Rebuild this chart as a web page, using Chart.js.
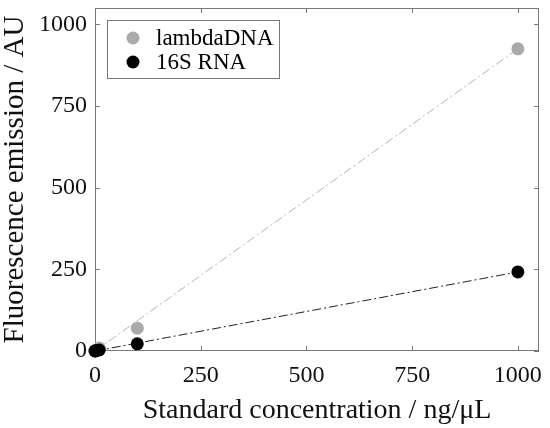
<!DOCTYPE html>
<html>
<head>
<meta charset="utf-8">
<script src="https://cdn.jsdelivr.net/npm/chart.js@4/dist/chart.umd.min.js"></script>
<style>
  html, body { margin: 0; padding: 0; background: #fff; }
  #wrap { width: 550px; height: 428px; position: relative; }
</style>
</head>
<body>
<div id="wrap"><canvas id="chart"></canvas></div>
<script>
// --- Data ---
const concentrations = [0, 1, 10, 100, 1000];          // ng/µL
const lambdaValues = [0, 1, 9, 70, 925];               // AU
const rnaValues = [0, 0.5, 3, 22, 242];                // AU
const lambdaFit = [0, 925];                            // fit line ends, at x = 0 and 1000
const rnaFit = [0, 242];
const fitX = [0, 1000];
const xTicks = [0, 250, 500, 750, 1000];
const yTicks = [0, 250, 500, 750, 1000];
const seriesNames = ['lambdaDNA', '16S RNA'];

const FONT = "'Liberation Serif', 'Times New Roman', serif";
const GREY = '#aaaaaa';
const AXIS = '#7a7a7a';

function toPoints(xs, ys) {
    return xs.map((x, i) => ({ x: x, y: ys[i] }));
}

// frame + inward ticks on all four sides, and a legend box inside the plot
const framePlugin = {
    id: 'frame',
    beforeDatasetsDraw(chart) {
        const { ctx, chartArea: a, scales } = chart;
        ctx.save();
        ctx.strokeStyle = AXIS;
        ctx.lineWidth = 1;
        ctx.strokeRect(a.left + 0.5, a.top + 0.5, a.right - a.left - 1, a.bottom - a.top - 1);
        const len = 5;
        ctx.beginPath();
        xTicks.forEach(v => {
            const px = Math.round(scales.x.getPixelForValue(v)) + 0.5;
            ctx.moveTo(px, a.bottom); ctx.lineTo(px, a.bottom - len);
            ctx.moveTo(px, a.top); ctx.lineTo(px, a.top + len);
        });
        yTicks.forEach(v => {
            const py = Math.round(scales.y.getPixelForValue(v)) + 0.5;
            ctx.moveTo(a.left, py); ctx.lineTo(a.left + len, py);
            ctx.moveTo(a.right, py); ctx.lineTo(a.right - len, py);
        });
        ctx.stroke();
        ctx.restore();
    },
    afterDraw(chart) {
        const { ctx } = chart;
        const box = { x: 107.5, y: 20.5, w: 172, h: 58 };
        ctx.save();
        ctx.fillStyle = '#fff';
        ctx.fillRect(box.x, box.y, box.w, box.h);
        ctx.strokeStyle = AXIS;
        ctx.lineWidth = 1;
        ctx.strokeRect(box.x, box.y, box.w, box.h);
        ctx.font = '23px ' + FONT;
        ctx.textBaseline = 'middle';
        [0, 1].forEach(i => {
            const ds = chart.data.datasets[i];
            const cy = 38 + i * 24;
            ctx.fillStyle = ds.backgroundColor;
            ctx.beginPath();
            ctx.arc(133, cy, 6.5, 0, Math.PI * 2);
            ctx.fill();
            ctx.fillStyle = '#000';
            ctx.fillText(ds.label, 156, cy + 1);
        });
        ctx.restore();
    }
};

new Chart(document.getElementById('chart'), {
    type: 'scatter',
    data: {
        datasets: [
            {
                label: seriesNames[0],
                data: toPoints(concentrations, lambdaValues),
                backgroundColor: GREY,
                borderColor: GREY,
                pointRadius: 6.5,
                borderWidth: 0,
                clip: false,
                order: 1
            },
            {
                label: seriesNames[1],
                data: toPoints(concentrations, rnaValues),
                backgroundColor: '#000',
                borderColor: '#000',
                pointRadius: 6.5,
                borderWidth: 0,
                clip: false,
                order: 0
            },
            {
                label: 'fit1',
                data: toPoints(fitX, lambdaFit),
                showLine: true,
                pointRadius: 0,
                borderColor: '#b4b4b4',
                borderWidth: 1,
                borderDash: [9, 3, 2, 3],
                order: 3
            },
            {
                label: 'fit2',
                data: toPoints(fitX, rnaFit),
                showLine: true,
                pointRadius: 0,
                borderColor: '#222',
                borderWidth: 1,
                borderDash: [9, 3, 2, 3],
                order: 2
            }
        ]
    },
    options: {
        responsive: true,
        maintainAspectRatio: false,
        animation: false,
        events: [],
        layout: { padding: { top: 8, right: 11, left: 0, bottom: 0 } },
        plugins: {
            legend: { display: false },
            tooltip: { enabled: false }
        },
        scales: {
            x: {
                type: 'linear',
                min: 0,
                max: 1050,
                afterBuildTicks: s => { s.ticks = xTicks.map(v => ({ value: v })); },
                afterFit: s => { s.height = 77; s.paddingLeft = 0; s.paddingRight = 0; },
                grid: { display: false, drawTicks: false },
                border: { display: false },
                ticks: { color: '#111', padding: 10, font: { family: FONT, size: 24 }, callback: v => String(v) },
                title: {
                    display: true,
                    text: 'Standard concentration / ng/μL',
                    color: '#111',
                    font: { family: FONT, size: 28 },
                    padding: { top: 0, bottom: 1 }
                }
            },
            y: {
                type: 'linear',
                min: 0,
                max: 1050,
                afterBuildTicks: s => { s.ticks = yTicks.map(v => ({ value: v })); },
                afterFit: s => { s.width = 95; s.paddingTop = 0; s.paddingBottom = 0; },
                grid: { display: false, drawTicks: false },
                border: { display: false },
                ticks: { color: '#111', padding: 8, font: { family: FONT, size: 24 }, callback: v => String(v) },
                title: {
                    display: true,
                    text: 'Fluorescence emission / AU',
                    color: '#111',
                    font: { family: FONT, size: 29 },
                    padding: { top: -2, bottom: 0 }
                }
            }
        }
    },
    plugins: [framePlugin]
});
</script>
</body>
</html>
